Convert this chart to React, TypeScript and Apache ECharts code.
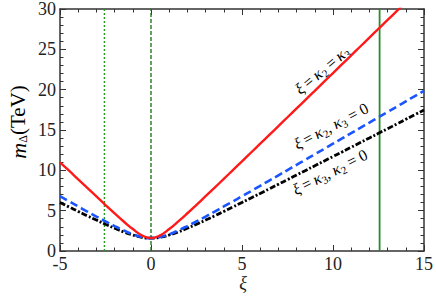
import React, { useEffect, useRef } from "react";
import * as echarts from "echarts";

// ξ grid
const xi = [
  -5, -4.5, -4, -3.5, -3, -2.5, -2, -1.5, -1, -0.5, 0, 0.5, 1, 1.5, 2, 2.5, 3, 3.5, 4, 4.5, 5,
  5.5, 6, 6.5, 7, 7.5, 8, 8.5, 9, 9.5, 10, 10.5, 11, 11.5, 12, 12.5, 13, 13.5, 14, 14.5, 15,
];
// ξ = κ2 = κ3 (red)
const mRed = [
  11.0, 9.95, 8.88, 7.82, 6.76, 5.7, 4.66, 3.66, 2.72, 1.94, 1.6, 1.94, 2.72, 3.67, 4.68, 5.73,
  6.79, 7.86, 8.94, 10.03, 11.12, 12.21, 13.3, 14.39, 15.48, 16.58, 17.67, 18.77, 19.86, 20.96,
  22.06, 23.16, 24.25, 25.35, 26.45, 27.55, 28.64, 29.74, 30.84, 31.9, 33.0,
];
// ξ = κ2, κ3 = 0 (blue dashed)
const mBlue = [
  6.79, 6.15, 5.52, 4.89, 4.27, 3.67, 3.09, 2.55, 2.07, 1.73, 1.6, 1.73, 2.07, 2.55, 3.09, 3.67,
  4.27, 4.89, 5.52, 6.15, 6.79, 7.43, 8.08, 8.73, 9.38, 10.03, 10.68, 11.33, 11.99, 12.64, 13.3,
  13.95, 14.61, 15.26, 15.92, 16.58, 17.23, 17.89, 18.55, 19.21, 19.86,
];
// ξ = κ3, κ2 = 0 (black dash-dot)
const mBlack = [
  6.02, 5.46, 4.91, 4.36, 3.83, 3.31, 2.82, 2.36, 1.98, 1.7, 1.6, 1.7, 1.98, 2.36, 2.82, 3.31,
  3.83, 4.36, 4.91, 5.46, 6.02, 6.58, 7.14, 7.71, 8.28, 8.85, 9.42, 9.99, 10.56, 11.14, 11.71,
  12.28, 12.86, 13.44, 14.01, 14.59, 15.16, 15.74, 16.32, 16.9, 17.47,
];
// vertical reference lines
const vDotted = -2.56;
const vDashed = 0;
const vSolid = 12.56;
const xTicks = [-5, 0, 5, 10, 15];
const yTicks = [0, 5, 10, 15, 20, 25, 30];

const FONT = "Liberation Serif";

export default function App() {
  const ref = useRef<HTMLDivElement>(null);
  useEffect(() => {
    if (!ref.current) return;
    const chart = echarts.init(ref.current, null, { renderer: "svg" });
    const pair = (ys: number[]) => xi.map((x, i) => [x, ys[i]]);
    const axisCommon = (show: boolean) => ({
      axisLine: { show: true, onZero: false, lineStyle: { color: "#333", width: 1.5 } },
      axisTick: { show: true, inside: true, length: 6, lineStyle: { color: "#333", width: 1 } },
      minorTick: { show: true, splitNumber: 5, length: 3.5, lineStyle: { color: "#333", width: 1 } },
      splitLine: { show: false },
      axisLabel: {
        show,
        fontFamily: FONT,
        fontSize: 18,
        color: "#222",
      },
    });
    const vline = (x: number, color: string, type: any, width: number) => ({
      type: "line",
      data: [
        [x, 0],
        [x, 30],
      ],
      symbol: "none",
      silent: true,
      lineStyle: { color, type, width },
      z: 1,
    });
    const rich = {
      t: { fontFamily: FONT, fontSize: 16, color: "#222" },
      i: { fontFamily: FONT, fontSize: 16, fontStyle: "italic", color: "#222" },
      s: { fontFamily: FONT, fontSize: 11, color: "#222", padding: [9, 0, 0, 0] },
    };
    chart.setOption({
      animation: false,
      grid: { left: 60, right: 9, top: 8, bottom: 45 },
      xAxis: [
        {
          type: "value",
          min: -5,
          max: 15,
          interval: 5,
          position: "bottom",
          ...axisCommon(true),
          axisLabel: { ...axisCommon(true).axisLabel, margin: 4, formatter: (v: number) => (xTicks.includes(v) ? String(v) : "") },
        },
        { type: "value", min: -5, max: 15, interval: 5, position: "top", ...axisCommon(false) },
      ],
      yAxis: [
        {
          type: "value",
          min: 0,
          max: 30,
          interval: 5,
          position: "left",
          ...axisCommon(true),
          axisLabel: { ...axisCommon(true).axisLabel, margin: 4, formatter: (v: number) => (yTicks.includes(v) ? String(v) : "") },
        },
        { type: "value", min: 0, max: 30, interval: 5, position: "right", ...axisCommon(false) },
      ],
      series: [
        vline(vDotted, "#1f9a1f", [2, 2], 1.4),
        vline(vDashed, "#1d7a1d", [4, 2], 1.4),
        vline(vSolid, "#2a8a2a", "solid", 1.8),
        {
          type: "line",
          data: pair(mBlack),
          symbol: "none",
          smooth: true,
          clip: true,
          lineStyle: { color: "#000", width: 2.8, type: [6, 2, 2, 2] },
          z: 3,
        },
        {
          type: "line",
          data: pair(mBlue),
          symbol: "none",
          smooth: true,
          clip: true,
          lineStyle: { color: "#1a55ff", width: 2.6, type: [8, 4] },
          z: 4,
        },
        {
          type: "line",
          data: pair(mRed),
          symbol: "none",
          smooth: true,
          clip: true,
          lineStyle: { color: "#ff1a1a", width: 2.4 },
          z: 5,
        },
      ],
      graphic: [
        {
          type: "text",
          x: 18,
          y: 122,
          rotation: Math.PI / 2,
          style: {
            text: "{m|m}{d|Δ}{p|(TeV)}",
            align: "center",
            verticalAlign: "middle",
            rich: {
              m: { fontFamily: FONT, fontSize: 22, fontStyle: "italic", color: "#222" },
              d: { fontFamily: FONT, fontSize: 12, color: "#222", padding: [10, 0, 0, 0] },
              p: { fontFamily: FONT, fontSize: 21, color: "#222" },
            },
          },
        },
        {
          type: "text",
          x: 243,
          y: 283,
          style: {
            text: "ξ",
            fontFamily: FONT,
            fontSize: 18,
            fontStyle: "italic",
            fill: "#222",
            align: "center",
            verticalAlign: "middle",
          },
        },
        {
          type: "text",
          x: 322,
          y: 70,
          rotation: (40 * Math.PI) / 180,
          style: {
            text: "{i|ξ} {t|=} {i|κ}{s|2}{t| =} {i|κ}{s|3}",
            align: "center",
            verticalAlign: "middle",
            rich,
          },
        },
        {
          type: "text",
          x: 331,
          y: 126,
          rotation: (28 * Math.PI) / 180,
          style: {
            text: "{i|ξ} {t|=} {i|κ}{s|2}{t|, }{i|κ}{s|3}{t| = 0}",
            align: "center",
            verticalAlign: "middle",
            rich,
          },
        },
        {
          type: "text",
          x: 330,
          y: 172,
          rotation: (27 * Math.PI) / 180,
          style: {
            text: "{i|ξ} {t|=} {i|κ}{s|3}{t|, }{i|κ}{s|2}{t| = 0}",
            align: "center",
            verticalAlign: "middle",
            rich,
          },
        },
      ],
    });
    return () => chart.dispose();
  }, []);
  return <div ref={ref} style={{ width: 436, height: 296, position: "absolute", left: 0, top: 0 }} />;
}
